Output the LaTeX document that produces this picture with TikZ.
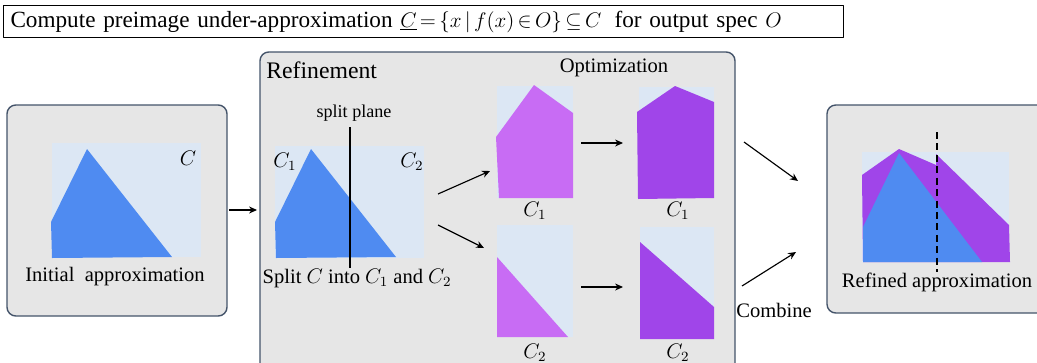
\documentclass[tikz,border=0pt]{standalone}
\usepackage{fontspec}
\setmainfont{Liberation Serif}
\newfontfamily\timesface{Liberation Serif}
\usetikzlibrary{arrows.meta}
\definecolor{boxgray}{HTML}{E6E6E6}
\definecolor{boxedge}{HTML}{44546A}
\definecolor{cellblue}{HTML}{DCE7F4}
\definecolor{setblue}{HTML}{4F8BF1}
\definecolor{setlilac}{HTML}{C86CF4}
\definecolor{setviolet}{HTML}{A045E9}
\tikzset{
  stage/.style={draw=boxedge,fill=boxgray,line width=0.8pt,rounded corners=5pt},
  flow/.style={-{Stealth[length=4.5pt,width=4pt]},line width=0.65pt},
  lbl/.style={font=\timesface\fontsize{11.7}{13}\selectfont,inner sep=0pt},
}
\begin{document}
\begin{tikzpicture}[x=0.02cm,y=-0.02cm,line join=round,lbl]
  \useasboundingbox (0,0) rectangle (1037,362);
  % title
  \node[draw,line width=0.6pt,anchor=north west,text width=16.52cm,inner xsep=0.14cm,
    minimum height=0.64cm,align=left,font=\timesface\fontsize{13.2}{15}\selectfont] (title) at (3,5)
    {\mbox{Compute preimage under-approximation
    $\thickmuskip=2.85mu\medmuskip=2mu\underline{C}=\{x\mid f(x)\in O\}\subseteq C$\hspace{0.57em}for output spec $O$}};
  % stage boxes
  \draw[stage] (7,105) rectangle (227,316);
  \draw[stage] (260,52) rectangle (735,375);
  \draw[stage] (827,105) rectangle (1050,313);
  % initial approximation
  \fill[cellblue] (52,143) rectangle (201,257);
  \fill[setblue] (87,149) -- (172,257) -- (52,258) -- (51,222) -- cycle;
  \node (cinit) at (188,158) {$C$};
  \node (initlbl) at (115,277) {Initial\enspace approximation};
  % refinement: split
  \fill[cellblue] (275,146) rectangle (424,258);
  \fill[setblue] (311,149) -- (396,257) -- (276,258) -- (275,222) -- cycle;
  \coordinate (planetop) at (350,127);
  \coordinate (planebot) at (350,268);
  \draw[line width=1.1pt] (planetop) -- (planebot);
  \node[anchor=west,font=\timesface\fontsize{13.5}{15}\selectfont] (reflbl) at (266,70) {Refinement};
  \node[font=\timesface\fontsize{10.3}{12}\selectfont] (planelbl) at (354,113) {split plane};
  \node (csplit1) at (285,162) {$C_1$};
  \node (csplit2) at (412,162) {$C_2$};
  \node (splitlbl) at (357,278) {Split $C$ into $C_1$ and $C_2$};
  % optimization
  \node (optlbl) at (614,68) {Optimization};
  \fill[cellblue] (497,86) rectangle (573,198);
  \fill[setlilac] (534,85) -- (573,113) -- (573,198) -- (499,198) -- (496,137) -- cycle;
  \fill[cellblue] (639,87) rectangle (714,198);
  \fill[setviolet] (675,86) -- (714,102) -- (714,198) -- (638,199) -- (637,112) -- cycle;
  \fill[cellblue] (497,225) rectangle (573,337);
  \fill[setlilac] (497,257) -- (568,337) -- (497,337) -- cycle;
  \fill[cellblue] (640,227) rectangle (714,339);
  \fill[setviolet] (640,242) -- (714,307) -- (714,339) -- (640,339) -- cycle;
  \node (cfirst) at (535,211) {$C_1$};
  \node (cfirstopt) at (678,211) {$C_1$};
  \node (csecond) at (535,353) {$C_2$};
  \node (csecondopt) at (678,353) {$C_2$};
  % refined approximation
  \fill[cellblue] (862,152) rectangle (1009,262);
  \fill[setviolet] (862,175) -- (899,149) -- (936,165) -- (936,154) -- (1009,225)
    -- (1010,262) -- (863,262) -- cycle;
  \fill[setblue] (899,153) -- (982,262) -- (863,262) -- (863,227) -- cycle;
  \coordinate (cuttop) at (937,132);
  \coordinate (cutbot) at (937,272);
  \draw[line width=1.1pt,dash pattern=on 4pt off 2.5pt] (cuttop) -- (cutbot);
  \node[fill=boxgray,inner xsep=1pt] (refinedlbl) at (937,282) {Refined approximation};
  \node (comblbl) at (774,310) {Combine};
  % arrows
  \coordinate (toref0) at (229,210);
  \coordinate (toref1) at (257,210);
  \coordinate (upfrom) at (438,194);
  \coordinate (upto) at (490,171);
  \coordinate (downfrom) at (438,225);
  \coordinate (downto) at (484,248);
  \coordinate (optup0) at (581,143);
  \coordinate (optup1) at (623,143);
  \coordinate (optdown0) at (581,287);
  \coordinate (optdown1) at (623,287);
  \coordinate (combup0) at (744,142);
  \coordinate (combup1) at (798,181);
  \coordinate (combdown0) at (742,286);
  \coordinate (combdown1) at (796,252);
  \draw[flow] (toref0) -- (toref1);
  \draw[flow] (upfrom) -- (upto);
  \draw[flow] (downfrom) -- (downto);
  \draw[flow] (optup0) -- (optup1);
  \draw[flow] (optdown0) -- (optdown1);
  \draw[flow] (combup0) -- (combup1);
  \draw[flow] (combdown0) -- (combdown1);
\end{tikzpicture}
\end{document}
